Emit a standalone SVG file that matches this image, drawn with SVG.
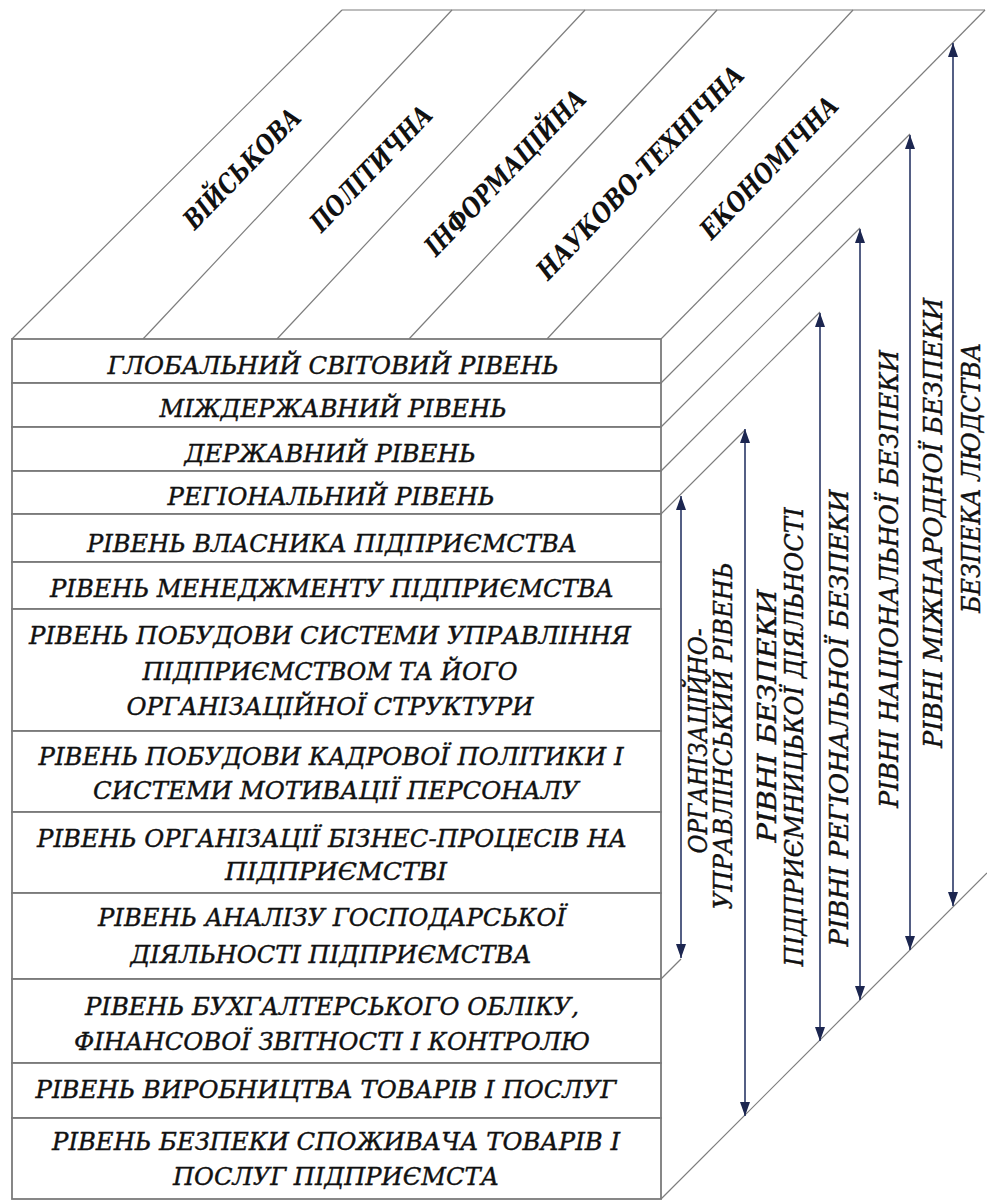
<svg xmlns="http://www.w3.org/2000/svg" width="987" height="1200" viewBox="0 0 987 1200">
<defs>
<style>
.edge{stroke:#7d7d7d;stroke-width:1.2;fill:none}
.row{fill:#fff;stroke:#7a7a7a;stroke-width:1.8}
.ft{font-family:'DejaVu Serif','Liberation Serif',serif;font-style:italic;font-size:25px;fill:#111;stroke:#111;stroke-width:0.4;text-anchor:middle}
.tt{font-family:'DejaVu Serif','Liberation Serif',serif;font-style:italic;font-weight:bold;font-size:27px;fill:#111;text-anchor:middle}
.st{font-family:'DejaVu Serif','Liberation Serif',serif;font-style:italic;font-size:26px;fill:#111;stroke:#111;stroke-width:0.4;text-anchor:middle}
.arr{stroke:#2a3766;stroke-width:1.6;fill:none;marker-start:url(#ah);marker-end:url(#ah)}
</style>
<marker id="ah" viewBox="0 0 14 10" refX="14" refY="5" markerWidth="14" markerHeight="10" markerUnits="userSpaceOnUse" orient="auto-start-reverse">
<path d="M0,0 L14,5 L0,10 Z" fill="#1c2650"/>
</marker>
</defs>
<rect width="987" height="1200" fill="#fff"/>

<g id="top-face">
<line class="edge" x1="342" y1="10" x2="985" y2="10"/>
<line class="edge" x1="12" y1="339" x2="342" y2="10"/>
<line class="edge" x1="143" y1="339" x2="452" y2="10"/>
<line class="edge" x1="277" y1="339" x2="585" y2="10"/>
<line class="edge" x1="409" y1="339" x2="717" y2="10"/>
<line class="edge" x1="547" y1="339" x2="853" y2="10"/>
<line class="edge" x1="661" y1="339" x2="985" y2="10"/>
<text class="tt" transform="translate(249,175) rotate(-46)" textLength="156" lengthAdjust="spacingAndGlyphs">ВІЙСЬКОВА</text>
<text class="tt" transform="translate(378,175) rotate(-46)" textLength="163" lengthAdjust="spacingAndGlyphs">ПОЛІТИЧНА</text>
<text class="tt" transform="translate(512,179) rotate(-46)" textLength="219" lengthAdjust="spacingAndGlyphs">ІНФОРМАЦІЙНА</text>
<text class="tt" transform="translate(647,179) rotate(-46)" textLength="285" lengthAdjust="spacingAndGlyphs">НАУКОВО-ТЕХНІЧНА</text>
<text class="tt" transform="translate(776,174) rotate(-46)" textLength="186" lengthAdjust="spacingAndGlyphs">ЕКОНОМІЧНА</text>
</g>

<g id="side-face">
<line class="edge" x1="661" y1="383" x2="910" y2="134"/>
<line class="edge" x1="661" y1="427" x2="860" y2="228"/>
<line class="edge" x1="661" y1="471" x2="820" y2="312"/>
<line class="edge" x1="661" y1="514" x2="745" y2="430"/>
<line class="edge" x1="661" y1="979" x2="681" y2="959"/>
<line class="edge" x1="661" y1="1199" x2="987" y2="873"/>
</g>

<g id="row1"><rect class="row" x="12" y="339" width="649" height="44"/><text class="ft" x="333" y="374" textLength="451" lengthAdjust="spacingAndGlyphs">ГЛОБАЛЬНИЙ СВІТОВИЙ РІВЕНЬ</text></g>
<g id="row2"><rect class="row" x="12" y="383" width="649" height="44"/><text class="ft" x="333" y="417" textLength="347" lengthAdjust="spacingAndGlyphs">МІЖДЕРЖАВНИЙ РІВЕНЬ</text></g>
<g id="row3"><rect class="row" x="12" y="427" width="649" height="44"/><text class="ft" x="330" y="462" textLength="291" lengthAdjust="spacingAndGlyphs">ДЕРЖАВНИЙ РІВЕНЬ</text></g>
<g id="row4"><rect class="row" x="12" y="471" width="649" height="43"/><text class="ft" x="331" y="505" textLength="327" lengthAdjust="spacingAndGlyphs">РЕГІОНАЛЬНИЙ РІВЕНЬ</text></g>
<g id="row5"><rect class="row" x="12" y="514" width="649" height="48"/><text class="ft" x="332" y="552" textLength="490" lengthAdjust="spacingAndGlyphs">РІВЕНЬ ВЛАСНИКА ПІДПРИЄМСТВА</text></g>
<g id="row6"><rect class="row" x="12" y="562" width="649" height="47"/><text class="ft" x="332" y="597" textLength="564" lengthAdjust="spacingAndGlyphs">РІВЕНЬ МЕНЕДЖМЕНТУ ПІДПРИЄМСТВА</text></g>
<g id="row7"><rect class="row" x="12" y="609" width="649" height="122"/>
<text class="ft" x="330" y="644" textLength="602" lengthAdjust="spacingAndGlyphs">РІВЕНЬ ПОБУДОВИ СИСТЕМИ УПРАВЛІННЯ</text>
<text class="ft" x="330" y="680" textLength="375" lengthAdjust="spacingAndGlyphs">ПІДПРИЄМСТВОМ ТА ЙОГО</text>
<text class="ft" x="330" y="715" textLength="407" lengthAdjust="spacingAndGlyphs">ОРГАНІЗАЦІЙНОЇ СТРУКТУРИ</text></g>
<g id="row8"><rect class="row" x="12" y="731" width="649" height="81"/>
<text class="ft" x="331" y="765" textLength="585" lengthAdjust="spacingAndGlyphs">РІВЕНЬ ПОБУДОВИ КАДРОВОЇ ПОЛІТИКИ І</text>
<text class="ft" x="336" y="799" textLength="486" lengthAdjust="spacingAndGlyphs">СИСТЕМИ МОТИВАЦІЇ ПЕРСОНАЛУ</text></g>
<g id="row9"><rect class="row" x="12" y="812" width="649" height="81"/>
<text class="ft" x="332" y="847" textLength="590" lengthAdjust="spacingAndGlyphs">РІВЕНЬ ОРГАНІЗАЦІЇ БІЗНЕС-ПРОЦЕСІВ НА</text>
<text class="ft" x="336" y="880" textLength="222" lengthAdjust="spacingAndGlyphs">ПІДПРИЄМСТВІ</text></g>
<g id="row10"><rect class="row" x="12" y="893" width="649" height="86"/>
<text class="ft" x="332" y="926" textLength="468" lengthAdjust="spacingAndGlyphs">РІВЕНЬ АНАЛІЗУ ГОСПОДАРСЬКОЇ</text>
<text class="ft" x="331" y="963" textLength="401" lengthAdjust="spacingAndGlyphs">ДІЯЛЬНОСТІ ПІДПРИЄМСТВА</text></g>
<g id="row11"><rect class="row" x="12" y="979" width="649" height="84"/>
<text class="ft" x="332" y="1015" textLength="494" lengthAdjust="spacingAndGlyphs">РІВЕНЬ БУХГАЛТЕРСЬКОГО ОБЛІКУ,</text>
<text class="ft" x="332" y="1050" textLength="516" lengthAdjust="spacingAndGlyphs">ФІНАНСОВОЇ ЗВІТНОСТІ І КОНТРОЛЮ</text></g>
<g id="row12"><rect class="row" x="12" y="1063" width="649" height="55"/>
<text class="ft" x="326" y="1098" textLength="581" lengthAdjust="spacingAndGlyphs">РІВЕНЬ ВИРОБНИЦТВА ТОВАРІВ І ПОСЛУГ</text></g>
<g id="row13"><rect class="row" x="12" y="1118" width="649" height="81"/>
<text class="ft" x="336" y="1150" textLength="568" lengthAdjust="spacingAndGlyphs">РІВЕНЬ БЕЗПЕКИ СПОЖИВАЧА ТОВАРІВ І</text>
<text class="ft" x="336" y="1185" textLength="326" lengthAdjust="spacingAndGlyphs">ПОСЛУГ ПІДПРИЄМСТА</text></g>

<g id="connectors">
<line class="arr" x1="681" y1="496" x2="681" y2="958"/>
<line class="arr" x1="745" y1="429" x2="745" y2="1116"/>
<line class="arr" x1="820" y1="313" x2="820" y2="1041"/>
<line class="arr" x1="860" y1="229" x2="860" y2="1000"/>
<line class="arr" x1="910" y1="135" x2="910" y2="950"/>
<line class="arr" x1="953" y1="43" x2="953" y2="906"/>
</g>

<g id="label-org">
<text class="st" transform="translate(707,741) rotate(-90)" textLength="225" lengthAdjust="spacingAndGlyphs">ОРГАНІЗАЦІЙНО-</text>
<text class="st" transform="translate(732,736) rotate(-90)" textLength="347" lengthAdjust="spacingAndGlyphs">УПРАВЛІНСЬКИЙ РІВЕНЬ</text>
</g>
<g id="label-enterprise">
<text class="st" transform="translate(776,716) rotate(-90)" textLength="253" lengthAdjust="spacingAndGlyphs">РІВНІ БЕЗПЕКИ</text>
<text class="st" transform="translate(803,737) rotate(-90)" textLength="459" lengthAdjust="spacingAndGlyphs">ПІДПРИЄМНИЦЬКОЇ ДІЯЛЬНОСТІ</text>
</g>
<g id="label-regional"><text class="st" transform="translate(848,718) rotate(-90)" textLength="457" lengthAdjust="spacingAndGlyphs">РІВНІ РЕГІОНАЛЬНОЇ БЕЗПЕКИ</text></g>
<g id="label-national"><text class="st" transform="translate(898,579) rotate(-90)" textLength="458" lengthAdjust="spacingAndGlyphs">РІВНІ НАЦІОНАЛЬНОЇ БЕЗПЕКИ</text></g>
<g id="label-international"><text class="st" transform="translate(942,523) rotate(-90)" textLength="450" lengthAdjust="spacingAndGlyphs">РІВНІ МІЖНАРОДНОЇ БЕЗПЕКИ</text></g>
<g id="label-mankind"><text class="st" transform="translate(980,478) rotate(-90)" textLength="270" lengthAdjust="spacingAndGlyphs">БЕЗПЕКА ЛЮДСТВА</text></g>
</svg>
